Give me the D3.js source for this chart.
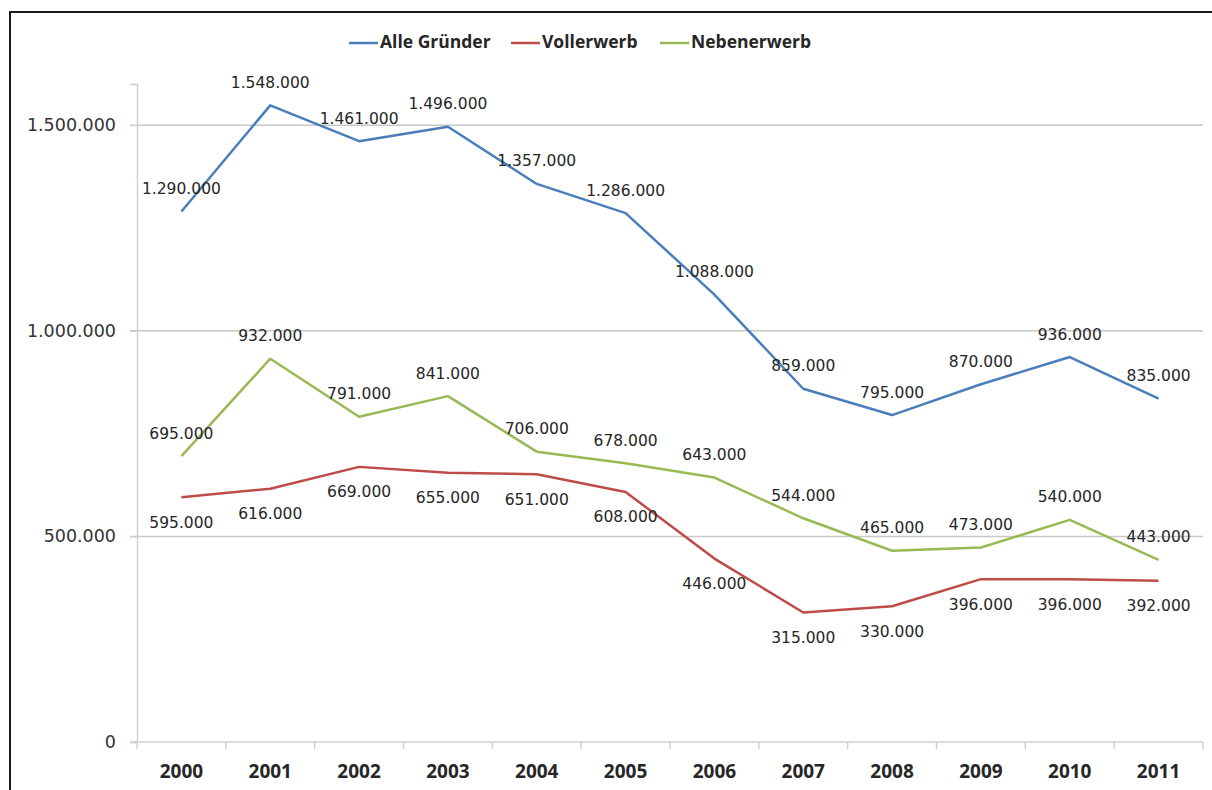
<!DOCTYPE html>
<html>
<head>
<meta charset="utf-8">
<script src="https://cdn.jsdelivr.net/npm/d3@7"></script>
<style>
	body { margin: 0; background: #fff; }
	svg { display: block; }
</style>
</head>
<body>
<div id="chart"></div>
<script>
const years = ["2000", "2001", "2002", "2003", "2004", "2005", "2006", "2007", "2008", "2009", "2010", "2011"];
const alle_gruender = [1290000, 1548000, 1461000, 1496000, 1357000, 1286000, 1088000, 859000, 795000, 870000, 936000, 835000];
const vollerwerb = [595000, 616000, 669000, 655000, 651000, 608000, 446000, 315000, 330000, 396000, 396000, 392000];
const nebenerwerb = [695000, 932000, 791000, 841000, 706000, 678000, 643000, 544000, 465000, 473000, 540000, 443000];
const series_names = ["Alle Gründer", "Vollerwerb", "Nebenerwerb"];
const y_ticks = [0, 500000, 1000000, 1500000];

const colors = ["#4a7ebb", "#be4b48", "#98b954"];
// label offset relative to the point: above for blue/green, below for red
const label_dy = [-22, 26, -22];

const width = 1212, height = 790;
const plot = {left: 137, right: 1203, top: 84, bottom: 742};

const series = [alle_gruender, vollerwerb, nebenerwerb].map((values, i) => ({
	name: series_names[i],
	color: colors[i],
	dy: label_dy[i],
	values: values.map((v, j) => ({year: years[j], value: v})),
}));

const fmt = d3.formatLocale({decimal: ",", thousands: ".", grouping: [3], currency: ["", "€"]}).format(",d");

const svg = d3.select("#chart")
	.append("svg")
		.attr("width", width)
		.attr("height", height);

// outer frame (runs off the right and bottom edges like the scan)
svg.append("rect")
	.attr("x", 10)
	.attr("y", 12)
	.attr("width", width + 20)
	.attr("height", height + 20)
	.attr("fill", "none")
	.attr("stroke", "#1a1a1a")
	.attr("stroke-width", 2);

const x = d3.scaleBand()
	.domain(years)
	.range([plot.left, plot.right]);
const y = d3.scaleLinear()
	.domain([0, 1600000])
	.range([plot.bottom, plot.top]);

// gridlines
svg.append("g")
	.selectAll("line")
	.data(y_ticks.filter(d => d > 0))
	.join("line")
		.attr("x1", plot.left - 7)
		.attr("x2", plot.right)
		.attr("y1", d => y(d))
		.attr("y2", d => y(d))
		.attr("stroke", "#c8c8c8")
		.attr("stroke-width", 1.5);

// y axis
const y_axis = svg.append("g")
	.attr("transform", "translate(" + plot.left + ",0)")
	.call(d3.axisLeft(y).tickValues(y_ticks).tickFormat(fmt).tickSize(7).tickPadding(14));
y_axis.select(".domain")
	.attr("stroke", "#d0d0d0")
	.attr("stroke-width", 1.5);
y_axis.selectAll(".tick line")
	.attr("stroke", "#d0d0d0")
	.attr("stroke-width", 1.5);
y_axis.selectAll(".tick text")
	.attr("font-family", "DejaVu Sans")
	.attr("font-size", 17.5)
	.attr("fill", "#333");

// x axis with ticks on band boundaries
const x_axis = svg.append("g")
	.attr("transform", "translate(0," + plot.bottom + ")");
x_axis.append("line")
	.attr("x1", plot.left - 7)
	.attr("x2", plot.right)
	.attr("stroke", "#d0d0d0")
	.attr("stroke-width", 1.5);
x_axis.selectAll(".xtick")
	.data(years.concat(["end"]))
	.join("line")
		.attr("class", "xtick")
		.attr("x1", d => d === "end" ? plot.right : x(d))
		.attr("x2", d => d === "end" ? plot.right : x(d))
		.attr("y1", 0)
		.attr("y2", 7)
		.attr("stroke", "#d0d0d0")
		.attr("stroke-width", 1.5);
x_axis.selectAll(".xlabel")
	.data(years)
	.join("text")
		.attr("class", "xlabel")
		.attr("x", d => x(d) + x.bandwidth() / 2)
		.attr("y", 31)
		.attr("text-anchor", "middle")
		.attr("dominant-baseline", "middle")
		.attr("font-family", "Open Sans")
		.attr("font-weight", "bold")
		.attr("font-size", 19)
		.attr("fill", "#262626")
		.text(d => d);

// lines
const line = d3.line()
	.x(d => x(d.year) + x.bandwidth() / 2)
	.y(d => y(d.value));
svg.append("g")
	.selectAll("path")
	.data(series)
	.join("path")
		.attr("d", d => line(d.values))
		.attr("fill", "none")
		.attr("stroke", d => d.color)
		.attr("stroke-width", 2.5)
		.attr("stroke-linejoin", "round");

// data labels
const label_groups = svg.append("g")
	.selectAll("g")
	.data(series)
	.join("g");
label_groups.selectAll("text")
	.data(d => d.values.map(v => Object.assign({dy: d.dy}, v)))
	.join("text")
		.attr("x", d => x(d.year) + x.bandwidth() / 2)
		.attr("y", d => y(d.value) + d.dy)
		.attr("text-anchor", "middle")
		.attr("dominant-baseline", "middle")
		.attr("font-family", "DejaVu Sans")
		.attr("font-size", 15.5)
		.attr("fill", "#262626")
		.text(d => fmt(d.value));

// legend
const legend_x = [349, 511, 660];
const legend = svg.append("g")
	.selectAll("g")
	.data(series)
	.join("g")
		.attr("transform", (d, i) => "translate(" + legend_x[i] + ",43)");
legend.append("line")
	.attr("x1", 0)
	.attr("x2", 29)
	.attr("stroke", d => d.color)
	.attr("stroke-width", 2.5);
legend.append("text")
	.attr("x", 31)
	.attr("dominant-baseline", "middle")
	.attr("font-family", "Open Sans")
	.attr("font-weight", "bold")
	.attr("font-size", 17.5)
	.attr("fill", "#262626")
	.text(d => d.name);
</script>
</body>
</html>
